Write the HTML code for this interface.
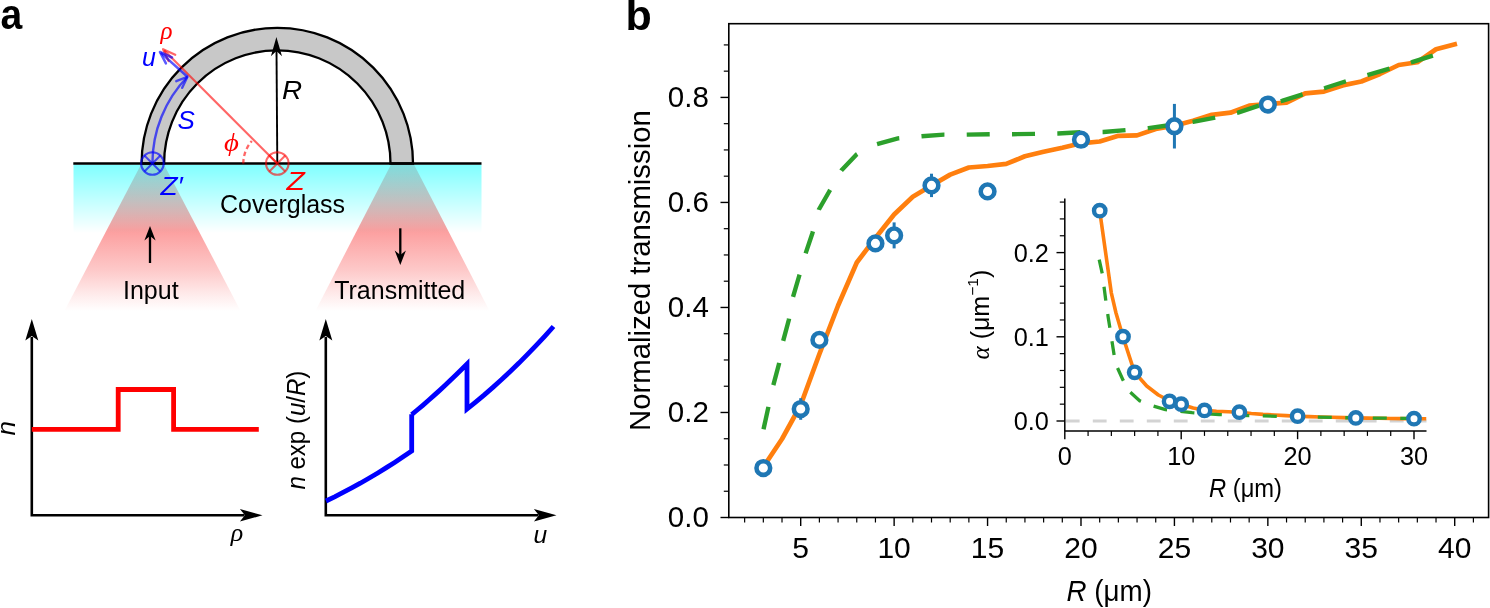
<!DOCTYPE html><html><head><meta charset="utf-8"><title>Figure</title><style>
html,body{margin:0;padding:0;background:#fff;overflow:hidden;}svg{display:block;will-change:transform;}
text{font-family:"Liberation Sans",sans-serif;}
.it{font-style:italic;}.sf{font-family:"Liberation Serif",serif;font-style:italic;}
</style></head><body>
<svg width="1490" height="608" viewBox="0 0 1490 608">
<defs>
<linearGradient id="cone" gradientUnits="userSpaceOnUse" x1="0" y1="164" x2="0" y2="311"><stop offset="0" stop-color="#fc9e9e" stop-opacity="0.72"/><stop offset="0.245" stop-color="#fc9e9e" stop-opacity="0.85"/><stop offset="0.449" stop-color="#fc9e9e" stop-opacity="1"/><stop offset="0.721" stop-color="#fc9e9e" stop-opacity="0.56"/><stop offset="0.891" stop-color="#fc9e9e" stop-opacity="0.2"/><stop offset="1" stop-color="#fc9e9e" stop-opacity="0"/></linearGradient>
<linearGradient id="cyan" gradientUnits="userSpaceOnUse" x1="0" y1="164.5" x2="0" y2="233"><stop offset="0" stop-color="#00ffff" stop-opacity="0.5"/><stop offset="1" stop-color="#00ffff" stop-opacity="0"/></linearGradient>
<clipPath id="mainclip"><rect x="728.7" y="23.7" width="760" height="493.6"/></clipPath>
<clipPath id="insclip"><rect x="1064.8" y="198.5" width="361.7" height="232.4"/></clipPath>
</defs>
<rect width="1490" height="608" fill="#fff"/>
<text x="0" y="29" font-size="42" font-weight="bold" transform="translate(0.4,0) scale(0.93,1)">a</text>
<polygon points="141,164.5 164,164.5 240.6,311 64.4,311" fill="url(#cone)"/>
<polygon points="391,164.5 414,164.5 489.6,311 315.4,311" fill="url(#cone)"/>
<rect x="73.5" y="164.5" width="408" height="69" fill="url(#cyan)"/>
<path d="M 141.60000000000002 163.5 A 135.7 135.7 0 0 1 413.0 163.5 L 390.5 163.5 A 113.2 113.2 0 0 0 164.10000000000002 163.5 Z" fill="#c8c8c8" stroke="#000" stroke-width="2.3"/>
<line x1="73.3" y1="163.5" x2="481.5" y2="163.5" stroke="#000" stroke-width="2.6"/>
<line x1="277.3" y1="163.5" x2="276.5" y2="50" stroke="#000" stroke-width="1.9"/>
<path d="M 276.4 37 L 282 56.3 L 276.45 51 L 270.9 56.3 Z" fill="#000"/>
<line x1="277.3" y1="163.5" x2="164.1" y2="50.3" stroke="rgba(255,0,0,0.6)" stroke-width="2.2"/>
<polyline points="175.2,54.8 163.1,49.3 168.6,61.0" fill="none" stroke="rgba(255,0,0,0.6)" stroke-width="2.3" stroke-linejoin="round" stroke-linecap="round"/>
<path d="M 243.3 163.5 A 34 34 0 0 1 251.84 140.97" fill="none" stroke="rgba(255,0,0,0.6)" stroke-width="2.3" stroke-dasharray="4.5 3"/>
<circle cx="277.3" cy="163.5" r="11.3" fill="none" stroke="rgba(255,0,0,0.6)" stroke-width="2"/>
<path d="M 269.30977 155.50977 L 285.29023 171.49023 M 269.30977 171.49023 L 285.29023 155.50977" stroke="rgba(255,0,0,0.6)" stroke-width="2"/>
<path d="M 152.40 163.5 A 124.9 124.9 0 0 1 187.45 76.74" fill="none" stroke="rgba(0,0,255,0.65)" stroke-width="2.4"/>
<polyline points="176.3,81.2 187.45,76.74 182.2,87.8" fill="none" stroke="rgba(0,0,255,0.65)" stroke-width="2.4" stroke-linejoin="round" stroke-linecap="round"/>
<line x1="187.45" y1="76.74" x2="160.6" y2="52.6" stroke="rgba(0,0,255,0.65)" stroke-width="2.5"/>
<polyline points="165.9,63.4 159.9,52.0 172.0,57.5" fill="none" stroke="rgba(0,0,255,0.65)" stroke-width="2.5" stroke-linejoin="round" stroke-linecap="round"/>
<circle cx="152.40" cy="163.5" r="11.3" fill="none" stroke="rgba(0,0,255,0.65)" stroke-width="2.1"/>
<path d="M 144.41 155.51 L 160.39 171.49 M 144.41 171.49 L 160.39 155.51" stroke="rgba(0,0,255,0.65)" stroke-width="2"/>
<text x="160.6" y="38.8" font-size="25" fill="#f00" class="sf">ρ</text>
<text x="142" y="65.8" font-size="25" fill="#00f" class="it">u</text>
<text x="177.5" y="129" font-size="26" fill="#00f" class="it">S</text>
<text transform="translate(282,99.3) scale(1.1,1)" font-size="25.3" fill="#000" class="it">R</text>
<text transform="translate(224,151.3) scale(1.15,1)" font-size="25" fill="#f00" class="sf">ϕ</text>
<text transform="translate(160.5,195) scale(1.1,1)" font-size="25.4" fill="#00f" class="it">Z′</text>
<text transform="translate(286.6,190.3) scale(1.16,1)" font-size="25.8" fill="#f00" class="it">Z</text>
<text x="282.6" y="212.6" font-size="25" fill="#000" text-anchor="middle">Coverglass</text>
<text x="150.8" y="299.4" font-size="25" fill="#000" text-anchor="middle">Input</text>
<text x="399.7" y="299.4" font-size="25" fill="#000" text-anchor="middle">Transmitted</text>
<line x1="150" y1="263" x2="150" y2="232" stroke="#000" stroke-width="2.3"/>
<path d="M 150 226 L 155.6 240.5 L 150 236 L 144.4 240.5 Z" fill="#000"/>
<line x1="400.3" y1="228.3" x2="400.3" y2="259" stroke="#000" stroke-width="2.3"/>
<path d="M 400.3 265 L 405.9 250.5 L 400.3 255 L 394.7 250.5 Z" fill="#000"/>
<path d="M 31.8 336.9 L 31.8 515.3 L 244.5 515.3" fill="none" stroke="#000" stroke-width="2.6"/>
<path d="M 31.8 318.9 L 38.3 340.5 L 31.8 335.9 L 25.3 340.5 Z" fill="#000"/>
<path d="M 262.5 515.3 L 239.9 508.99999999999994 L 244.9 515.3 L 239.9 521.5999999999999 Z" fill="#000"/>
<polyline points="31.8,429.4 118.2,429.4 118.2,389.5 173.6,389.5 173.6,429.4 258.8,429.4" fill="none" stroke="#f00" stroke-width="4.8" stroke-linejoin="miter"/>
<text transform="translate(14.8,435.6) rotate(-90)" font-size="26" class="it">n</text>
<text transform="translate(230.8,541.4) scale(1.06,1)" font-size="24.5" class="sf">ρ</text>
<path d="M 325.8 336.9 L 325.8 515.3 L 538.5 515.3" fill="none" stroke="#000" stroke-width="2.6"/>
<path d="M 325.8 318.9 L 332.3 340.5 L 325.8 335.9 L 319.3 340.5 Z" fill="#000"/>
<path d="M 556.5 515.3 L 533.9 508.99999999999994 L 538.9 515.3 L 533.9 521.5999999999999 Z" fill="#000"/>
<polyline points="326.0,501.0 334.6,496.8 343.1,492.4 351.7,487.9 360.3,483.2 368.9,478.2 377.4,473.2 386.0,467.9 394.6,462.4 403.1,456.8 411.7,451.0 411.7,414.3 411.7,414.6 417.2,410.0 422.8,405.3 428.3,400.5 433.8,395.6 439.4,390.6 444.9,385.5 450.4,380.2 455.9,374.9 461.5,369.5 467.0,364.0 467.0,409.0 467.0,409.0 475.6,402.1 484.3,394.9 492.9,387.4 501.6,379.6 510.2,371.5 518.9,363.1 527.5,354.4 536.2,345.4 544.9,336.1 553.5,326.5" fill="none" stroke="#00f" stroke-width="4.8" stroke-linejoin="miter"/>
<text transform="translate(305.3,430.1) rotate(-90)" font-size="25.5" text-anchor="middle" textLength="119" lengthAdjust="spacingAndGlyphs"><tspan class="it">n</tspan> exp (<tspan class="it">u</tspan>/<tspan class="it">R</tspan>)</text>
<text x="533.5" y="542.9" font-size="24.6" class="it">u</text>
<text x="625.6" y="30.3" font-size="43" font-weight="bold">b</text>
<rect x="728.8" y="23.7" width="759.8" height="493.8" fill="none" stroke="#000" stroke-width="1.6"/>
<line x1="720.5" y1="517.50" x2="728.8" y2="517.50" stroke="#000" stroke-width="1.4"/>
<text x="708.8" y="527.20" font-size="29.5" text-anchor="end">0.0</text>
<line x1="723.8" y1="491.25" x2="728.8" y2="491.25" stroke="#000" stroke-width="1.2"/>
<line x1="723.8" y1="464.99" x2="728.8" y2="464.99" stroke="#000" stroke-width="1.2"/>
<line x1="723.8" y1="438.74" x2="728.8" y2="438.74" stroke="#000" stroke-width="1.2"/>
<line x1="720.5" y1="412.48" x2="728.8" y2="412.48" stroke="#000" stroke-width="1.4"/>
<text x="708.8" y="422.18" font-size="29.5" text-anchor="end">0.2</text>
<line x1="723.8" y1="386.23" x2="728.8" y2="386.23" stroke="#000" stroke-width="1.2"/>
<line x1="723.8" y1="359.97" x2="728.8" y2="359.97" stroke="#000" stroke-width="1.2"/>
<line x1="723.8" y1="333.71" x2="728.8" y2="333.71" stroke="#000" stroke-width="1.2"/>
<line x1="720.5" y1="307.46" x2="728.8" y2="307.46" stroke="#000" stroke-width="1.4"/>
<text x="708.8" y="317.16" font-size="29.5" text-anchor="end">0.4</text>
<line x1="723.8" y1="281.20" x2="728.8" y2="281.20" stroke="#000" stroke-width="1.2"/>
<line x1="723.8" y1="254.95" x2="728.8" y2="254.95" stroke="#000" stroke-width="1.2"/>
<line x1="723.8" y1="228.69" x2="728.8" y2="228.69" stroke="#000" stroke-width="1.2"/>
<line x1="720.5" y1="202.44" x2="728.8" y2="202.44" stroke="#000" stroke-width="1.4"/>
<text x="708.8" y="212.14" font-size="29.5" text-anchor="end">0.6</text>
<line x1="723.8" y1="176.18" x2="728.8" y2="176.18" stroke="#000" stroke-width="1.2"/>
<line x1="723.8" y1="149.93" x2="728.8" y2="149.93" stroke="#000" stroke-width="1.2"/>
<line x1="723.8" y1="123.67" x2="728.8" y2="123.67" stroke="#000" stroke-width="1.2"/>
<line x1="720.5" y1="97.42" x2="728.8" y2="97.42" stroke="#000" stroke-width="1.4"/>
<text x="708.8" y="107.12" font-size="29.5" text-anchor="end">0.8</text>
<line x1="723.8" y1="71.16" x2="728.8" y2="71.16" stroke="#000" stroke-width="1.2"/>
<line x1="723.8" y1="44.91" x2="728.8" y2="44.91" stroke="#000" stroke-width="1.2"/>
<line x1="744.64" y1="517.5" x2="744.64" y2="522.5" stroke="#000" stroke-width="1.2"/>
<line x1="763.33" y1="517.5" x2="763.33" y2="522.5" stroke="#000" stroke-width="1.2"/>
<line x1="782.01" y1="517.5" x2="782.01" y2="522.5" stroke="#000" stroke-width="1.2"/>
<line x1="800.70" y1="517.5" x2="800.70" y2="526.0" stroke="#000" stroke-width="1.4"/>
<text x="800.70" y="558.2" font-size="30" text-anchor="middle">5</text>
<line x1="819.39" y1="517.5" x2="819.39" y2="522.5" stroke="#000" stroke-width="1.2"/>
<line x1="838.07" y1="517.5" x2="838.07" y2="522.5" stroke="#000" stroke-width="1.2"/>
<line x1="856.76" y1="517.5" x2="856.76" y2="522.5" stroke="#000" stroke-width="1.2"/>
<line x1="875.44" y1="517.5" x2="875.44" y2="522.5" stroke="#000" stroke-width="1.2"/>
<line x1="894.13" y1="517.5" x2="894.13" y2="526.0" stroke="#000" stroke-width="1.4"/>
<text x="894.13" y="558.2" font-size="30" text-anchor="middle">10</text>
<line x1="912.82" y1="517.5" x2="912.82" y2="522.5" stroke="#000" stroke-width="1.2"/>
<line x1="931.50" y1="517.5" x2="931.50" y2="522.5" stroke="#000" stroke-width="1.2"/>
<line x1="950.19" y1="517.5" x2="950.19" y2="522.5" stroke="#000" stroke-width="1.2"/>
<line x1="968.87" y1="517.5" x2="968.87" y2="522.5" stroke="#000" stroke-width="1.2"/>
<line x1="987.56" y1="517.5" x2="987.56" y2="526.0" stroke="#000" stroke-width="1.4"/>
<text x="987.56" y="558.2" font-size="30" text-anchor="middle">15</text>
<line x1="1006.25" y1="517.5" x2="1006.25" y2="522.5" stroke="#000" stroke-width="1.2"/>
<line x1="1024.93" y1="517.5" x2="1024.93" y2="522.5" stroke="#000" stroke-width="1.2"/>
<line x1="1043.62" y1="517.5" x2="1043.62" y2="522.5" stroke="#000" stroke-width="1.2"/>
<line x1="1062.30" y1="517.5" x2="1062.30" y2="522.5" stroke="#000" stroke-width="1.2"/>
<line x1="1080.99" y1="517.5" x2="1080.99" y2="526.0" stroke="#000" stroke-width="1.4"/>
<text x="1080.99" y="558.2" font-size="30" text-anchor="middle">20</text>
<line x1="1099.68" y1="517.5" x2="1099.68" y2="522.5" stroke="#000" stroke-width="1.2"/>
<line x1="1118.36" y1="517.5" x2="1118.36" y2="522.5" stroke="#000" stroke-width="1.2"/>
<line x1="1137.05" y1="517.5" x2="1137.05" y2="522.5" stroke="#000" stroke-width="1.2"/>
<line x1="1155.73" y1="517.5" x2="1155.73" y2="522.5" stroke="#000" stroke-width="1.2"/>
<line x1="1174.42" y1="517.5" x2="1174.42" y2="526.0" stroke="#000" stroke-width="1.4"/>
<text x="1174.42" y="558.2" font-size="30" text-anchor="middle">25</text>
<line x1="1193.11" y1="517.5" x2="1193.11" y2="522.5" stroke="#000" stroke-width="1.2"/>
<line x1="1211.79" y1="517.5" x2="1211.79" y2="522.5" stroke="#000" stroke-width="1.2"/>
<line x1="1230.48" y1="517.5" x2="1230.48" y2="522.5" stroke="#000" stroke-width="1.2"/>
<line x1="1249.16" y1="517.5" x2="1249.16" y2="522.5" stroke="#000" stroke-width="1.2"/>
<line x1="1267.85" y1="517.5" x2="1267.85" y2="526.0" stroke="#000" stroke-width="1.4"/>
<text x="1267.85" y="558.2" font-size="30" text-anchor="middle">30</text>
<line x1="1286.54" y1="517.5" x2="1286.54" y2="522.5" stroke="#000" stroke-width="1.2"/>
<line x1="1305.22" y1="517.5" x2="1305.22" y2="522.5" stroke="#000" stroke-width="1.2"/>
<line x1="1323.91" y1="517.5" x2="1323.91" y2="522.5" stroke="#000" stroke-width="1.2"/>
<line x1="1342.59" y1="517.5" x2="1342.59" y2="522.5" stroke="#000" stroke-width="1.2"/>
<line x1="1361.28" y1="517.5" x2="1361.28" y2="526.0" stroke="#000" stroke-width="1.4"/>
<text x="1361.28" y="558.2" font-size="30" text-anchor="middle">35</text>
<line x1="1379.97" y1="517.5" x2="1379.97" y2="522.5" stroke="#000" stroke-width="1.2"/>
<line x1="1398.65" y1="517.5" x2="1398.65" y2="522.5" stroke="#000" stroke-width="1.2"/>
<line x1="1417.34" y1="517.5" x2="1417.34" y2="522.5" stroke="#000" stroke-width="1.2"/>
<line x1="1436.02" y1="517.5" x2="1436.02" y2="522.5" stroke="#000" stroke-width="1.2"/>
<line x1="1454.71" y1="517.5" x2="1454.71" y2="526.0" stroke="#000" stroke-width="1.4"/>
<text x="1454.71" y="558.2" font-size="30" text-anchor="middle">40</text>
<line x1="1473.40" y1="517.5" x2="1473.40" y2="522.5" stroke="#000" stroke-width="1.2"/>
<text transform="translate(650.3,270.6) rotate(-90)" font-size="29.3" text-anchor="middle">Normalized transmission</text>
<text x="1109.3" y="601.4" font-size="29.8" text-anchor="middle" textLength="85.5" lengthAdjust="spacingAndGlyphs"><tspan class="it">R</tspan> (μm)</text>
<polyline points="763.3,467.0 782.0,439.0 800.7,405.0 819.4,354.0 838.1,305.5 856.8,262.5 875.4,238.0 894.1,214.5 912.8,196.8 931.5,185.5 950.2,174.6 968.9,167.5 987.6,166.0 1006.2,163.9 1024.9,156.3 1043.6,151.8 1062.3,147.8 1081.0,143.3 1099.7,141.5 1118.4,135.8 1137.0,135.4 1155.7,129.0 1174.4,125.8 1193.1,120.8 1211.8,114.8 1230.5,112.7 1249.2,105.6 1267.8,104.0 1286.5,102.6 1305.2,93.4 1323.9,91.6 1342.6,85.4 1361.3,81.5 1380.0,74.0 1398.7,65.0 1417.3,62.2 1436.0,49.3 1454.7,44.4" fill="none" stroke="#ff7f0e" stroke-width="4.7" stroke-linejoin="round" stroke-linecap="square"/>
<polyline points="763.2,430.8 768.1,408.4 773.0,386.4 778.9,364.3 782.9,342.0 788.8,320.0 792.8,297.6 799.3,275.5 805.8,252.9 812.4,233.2 818.9,209.5 829.5,191.0 841.3,170.5 856.3,154.7 866.0,148.5 876.8,144.2 897.9,138.4 921.6,136.3 944.0,134.6 966.7,134.6 989.8,134.2 1012.0,134.2 1034.9,133.9 1057.9,133.5 1080.2,132.3 1103.4,132.0 1125.9,130.1 1148.5,128.1 1165.6,125.8 1193.0,121.9 1215.5,117.6 1238.0,112.7 1257.4,106.2 1282.0,100.9 1303.6,94.0 1325.0,88.0 1346.5,81.1 1369.0,74.7 1390.5,68.2 1412.0,62.2 1434.0,55.3 1454.1,49.5" fill="none" stroke="#2ca02c" stroke-width="4.4" stroke-dasharray="23 22.3" stroke-dashoffset="-1.5" stroke-linejoin="round"/>
<circle cx="763.33" cy="468.00" r="6.85" fill="#fff" stroke="#1f77b4" stroke-width="4.55"/>
<line x1="800.70" y1="398.20" x2="800.70" y2="419.80" stroke="#1f77b4" stroke-width="3"/>
<circle cx="800.70" cy="409.00" r="6.85" fill="#fff" stroke="#1f77b4" stroke-width="4.55"/>
<circle cx="819.39" cy="339.90" r="6.85" fill="#fff" stroke="#1f77b4" stroke-width="4.55"/>
<circle cx="875.44" cy="243.40" r="6.85" fill="#fff" stroke="#1f77b4" stroke-width="4.55"/>
<line x1="894.13" y1="222.40" x2="894.13" y2="248.40" stroke="#1f77b4" stroke-width="3"/>
<circle cx="894.13" cy="235.40" r="6.85" fill="#fff" stroke="#1f77b4" stroke-width="4.55"/>
<line x1="931.50" y1="173.70" x2="931.50" y2="197.10" stroke="#1f77b4" stroke-width="3"/>
<circle cx="931.50" cy="185.40" r="6.85" fill="#fff" stroke="#1f77b4" stroke-width="4.55"/>
<circle cx="987.56" cy="191.40" r="6.85" fill="#fff" stroke="#1f77b4" stroke-width="4.55"/>
<circle cx="1080.99" cy="139.70" r="6.85" fill="#fff" stroke="#1f77b4" stroke-width="4.55"/>
<line x1="1174.42" y1="103.90" x2="1174.42" y2="148.50" stroke="#1f77b4" stroke-width="3"/>
<circle cx="1174.42" cy="126.20" r="6.85" fill="#fff" stroke="#1f77b4" stroke-width="4.55"/>
<circle cx="1267.85" cy="104.50" r="6.85" fill="#fff" stroke="#1f77b4" stroke-width="4.55"/>
<rect x="1064.8" y="198.5" width="361.70000000000005" height="232.39999999999998" fill="#fff"/>
<line x1="1065.8" y1="421.00" x2="1426.5" y2="421.00" stroke="#d3d3d3" stroke-width="3.2" stroke-dasharray="13.8 13.2"/>
<g clip-path="url(#insclip)">
<polyline points="1099.7,210.7 1111.3,292.8 1116.0,313.0 1122.9,336.6 1134.4,372.0 1146.7,386.0 1158.4,395.0 1170.0,401.0 1181.6,404.5 1193.2,408.0 1204.8,410.3 1216.5,411.2 1228.1,411.8 1239.6,412.3 1251.3,413.5 1263.0,414.4 1274.6,415.0 1286.2,415.6 1297.5,416.2 1309.1,416.6 1320.7,417.0 1332.4,417.3 1344.0,417.6 1355.8,417.9 1367.4,418.1 1379.0,418.3 1390.6,418.5 1402.3,418.6 1413.9,418.7 1426.5,418.8" fill="none" stroke="#ff7f0e" stroke-width="3.6" stroke-linejoin="round"/>
<polyline points="1099.2,259.7 1102.4,274.2 1105.8,300.5 1108.3,318.0 1111.0,335.0 1114.2,355.5 1117.2,367.3 1123.1,380.2 1130.0,392.0 1139.9,400.9 1152.7,405.8 1165.5,409.7 1178.3,411.1 1192.1,412.7 1205.0,413.7 1219.3,414.6 1240.0,415.4 1261.2,415.8 1287.8,416.7 1315.2,417.0 1342.6,417.7 1369.9,418.0 1397.3,418.3 1426.5,418.6" fill="none" stroke="#2ca02c" stroke-width="3.3" stroke-dasharray="14 13.5" stroke-linejoin="round"/>
</g>
<circle cx="1099.72" cy="210.70" r="5.7" fill="#fff" stroke="#1f77b4" stroke-width="4.4"/>
<circle cx="1123.00" cy="336.70" r="5.7" fill="#fff" stroke="#1f77b4" stroke-width="4.4"/>
<circle cx="1134.64" cy="372.30" r="5.7" fill="#fff" stroke="#1f77b4" stroke-width="4.4"/>
<circle cx="1169.56" cy="401.30" r="5.7" fill="#fff" stroke="#1f77b4" stroke-width="4.4"/>
<circle cx="1181.20" cy="404.20" r="5.7" fill="#fff" stroke="#1f77b4" stroke-width="4.4"/>
<circle cx="1204.48" cy="410.40" r="5.7" fill="#fff" stroke="#1f77b4" stroke-width="4.4"/>
<circle cx="1239.40" cy="412.20" r="5.7" fill="#fff" stroke="#1f77b4" stroke-width="4.4"/>
<circle cx="1297.60" cy="416.20" r="5.7" fill="#fff" stroke="#1f77b4" stroke-width="4.4"/>
<circle cx="1355.80" cy="417.90" r="5.7" fill="#fff" stroke="#1f77b4" stroke-width="4.4"/>
<circle cx="1414.00" cy="418.70" r="5.7" fill="#fff" stroke="#1f77b4" stroke-width="4.4"/>
<line x1="1064.8" y1="198.5" x2="1064.8" y2="430.9" stroke="#000" stroke-width="1.5"/>
<line x1="1064.8" y1="430.9" x2="1426.5" y2="430.9" stroke="#000" stroke-width="1.5"/>
<line x1="1056.5" y1="421.00" x2="1064.8" y2="421.00" stroke="#000" stroke-width="1.4"/>
<text x="1048.9" y="429.90" font-size="25.3" text-anchor="end">0.0</text>
<line x1="1059.8" y1="404.16" x2="1064.8" y2="404.16" stroke="#000" stroke-width="1.2"/>
<line x1="1059.8" y1="387.32" x2="1064.8" y2="387.32" stroke="#000" stroke-width="1.2"/>
<line x1="1059.8" y1="370.48" x2="1064.8" y2="370.48" stroke="#000" stroke-width="1.2"/>
<line x1="1059.8" y1="353.64" x2="1064.8" y2="353.64" stroke="#000" stroke-width="1.2"/>
<line x1="1056.5" y1="336.80" x2="1064.8" y2="336.80" stroke="#000" stroke-width="1.4"/>
<text x="1048.9" y="345.70" font-size="25.3" text-anchor="end">0.1</text>
<line x1="1059.8" y1="319.96" x2="1064.8" y2="319.96" stroke="#000" stroke-width="1.2"/>
<line x1="1059.8" y1="303.12" x2="1064.8" y2="303.12" stroke="#000" stroke-width="1.2"/>
<line x1="1059.8" y1="286.28" x2="1064.8" y2="286.28" stroke="#000" stroke-width="1.2"/>
<line x1="1059.8" y1="269.44" x2="1064.8" y2="269.44" stroke="#000" stroke-width="1.2"/>
<line x1="1056.5" y1="252.60" x2="1064.8" y2="252.60" stroke="#000" stroke-width="1.4"/>
<text x="1048.9" y="261.50" font-size="25.3" text-anchor="end">0.2</text>
<line x1="1059.8" y1="235.76" x2="1064.8" y2="235.76" stroke="#000" stroke-width="1.2"/>
<line x1="1059.8" y1="218.92" x2="1064.8" y2="218.92" stroke="#000" stroke-width="1.2"/>
<line x1="1059.8" y1="202.08" x2="1064.8" y2="202.08" stroke="#000" stroke-width="1.2"/>
<line x1="1064.80" y1="430.9" x2="1064.80" y2="439.2" stroke="#000" stroke-width="1.4"/>
<text x="1064.80" y="465.2" font-size="25.3" text-anchor="middle">0</text>
<line x1="1088.08" y1="430.9" x2="1088.08" y2="435.9" stroke="#000" stroke-width="1.2"/>
<line x1="1111.36" y1="430.9" x2="1111.36" y2="435.9" stroke="#000" stroke-width="1.2"/>
<line x1="1134.64" y1="430.9" x2="1134.64" y2="435.9" stroke="#000" stroke-width="1.2"/>
<line x1="1157.92" y1="430.9" x2="1157.92" y2="435.9" stroke="#000" stroke-width="1.2"/>
<line x1="1181.20" y1="430.9" x2="1181.20" y2="439.2" stroke="#000" stroke-width="1.4"/>
<text x="1181.20" y="465.2" font-size="25.3" text-anchor="middle">10</text>
<line x1="1204.48" y1="430.9" x2="1204.48" y2="435.9" stroke="#000" stroke-width="1.2"/>
<line x1="1227.76" y1="430.9" x2="1227.76" y2="435.9" stroke="#000" stroke-width="1.2"/>
<line x1="1251.04" y1="430.9" x2="1251.04" y2="435.9" stroke="#000" stroke-width="1.2"/>
<line x1="1274.32" y1="430.9" x2="1274.32" y2="435.9" stroke="#000" stroke-width="1.2"/>
<line x1="1297.60" y1="430.9" x2="1297.60" y2="439.2" stroke="#000" stroke-width="1.4"/>
<text x="1297.60" y="465.2" font-size="25.3" text-anchor="middle">20</text>
<line x1="1320.88" y1="430.9" x2="1320.88" y2="435.9" stroke="#000" stroke-width="1.2"/>
<line x1="1344.16" y1="430.9" x2="1344.16" y2="435.9" stroke="#000" stroke-width="1.2"/>
<line x1="1367.44" y1="430.9" x2="1367.44" y2="435.9" stroke="#000" stroke-width="1.2"/>
<line x1="1390.72" y1="430.9" x2="1390.72" y2="435.9" stroke="#000" stroke-width="1.2"/>
<line x1="1414.00" y1="430.9" x2="1414.00" y2="439.2" stroke="#000" stroke-width="1.4"/>
<text x="1414.00" y="465.2" font-size="25.3" text-anchor="middle">30</text>
<text x="1245.5" y="496.9" font-size="25.3" text-anchor="middle" textLength="73" lengthAdjust="spacingAndGlyphs"><tspan class="it">R</tspan> (μm)</text>
<text transform="translate(988.6,314.6) rotate(-90)" font-size="25" text-anchor="middle"><tspan class="sf">α</tspan> (μm<tspan font-size="15.5" dy="-10.5">−1</tspan><tspan dy="10.5">)</tspan></text>
</svg></body></html>
